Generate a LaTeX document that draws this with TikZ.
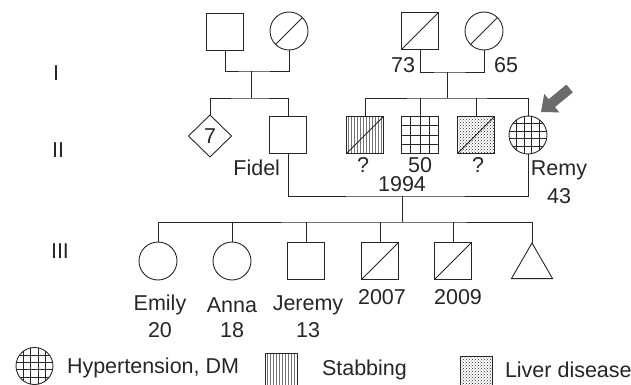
\documentclass[tikz,border=0pt]{standalone}
\usepackage{fontspec}
\setmainfont{Liberation Sans}
\usetikzlibrary{shapes.geometric,patterns}
\begin{document}
\begin{tikzpicture}[x=1pt,y=-1pt,line width=0.9pt,draw=black!85,
  every node/.style={inner sep=0pt,outer sep=0pt,font=\fontsize{21.5}{24}\selectfont,text=black!85},
  male/.style={draw,rectangle,minimum size=37pt},
  female/.style={draw,circle,minimum size=38pt},
  unknownsex/.style={draw,diamond,minimum width=43pt,minimum height=42pt},
  pregnancy/.style={draw,regular polygon,regular polygon sides=3,minimum size=47.4pt},
  stab/.style={pattern=vertical lines,pattern color=black!55},
  liver/.style={pattern=crosshatch dots,pattern color=black!85},
  lbl/.style={anchor=center}]
\useasboundingbox (0,0) rectangle (631,385);

% generation numerals
\node[lbl] (gI) at (56,73) {I};
\node[lbl] (gII) at (58,150) {II};
\node[lbl] (gIII) at (60,251) {III};

% generation I
\node[male] (I1) at (225,32) {};
\node[female] (I2) at (289,31) {};
\node[male] (I3) at (420,31) {};
\node[female] (I4) at (484,31) {};
\draw (I2.225) -- (I2.45);
\draw (I3.south west) -- (I3.north east);
\draw (I4.225) -- (I4.45);
\node[lbl] (a73) at (403,65) {73};
\node[lbl] (a65) at (506,65) {65};

\coordinate (m1) at (251,71);
\coordinate (s1) at (251,98);
\coordinate (m2) at (447,72);
\coordinate (s2) at (447,98);
\draw (I1.south) |- (m1) -| (I2.south);
\draw (I3.south) |- (m2) -| (I4.south);
\draw (m1) -- (s1);
\draw (m2) -- (s2);

% generation II
\node[unknownsex] (D) at (210,136) {7};
\node[male] (F) at (288,135) {};
\node[male,stab] (A) at (365,135) {};
\node[male] (B) at (420,135) {};
\node[male,liver] (C) at (476,135) {};
\node[female] (R) at (528,135) {};
\draw (A.south west) -- (A.north east);
\draw (C.south west) -- (C.north east);
\foreach \d in {-9.25,0,9.25} {
  \draw[shift={(B.center)}] (\d,-18.5) -- (\d,18.5) (-18.5,\d) -- (18.5,\d);
}
\begin{scope}
  \clip (R.center) circle[radius=19pt];
  \foreach \d in {-11.4,-3.8,3.8,11.4} {
    \draw[shift={(R.center)}] (\d,-20) -- (\d,20) (-20,\d) -- (20,\d);
  }
\end{scope}
\draw (D.north) |- (s1) -| (F.north);
\draw (A.north) |- (s2) -| (R.north);
\draw (B.north) -- (B.north |- s2);
\draw (C.north) -- (C.north |- s2);

\node[lbl,anchor=east] (fidel) at (280,168) {Fidel};
\node[lbl] (qA) at (363,165) {?};
\node[lbl] (n50) at (420,165) {50};
\node[lbl] (qC) at (478,165) {?};
\node[lbl] (remy) at (559,170) {Remy};
\node[lbl] (a43) at (559,196) {43};

% proband arrow
\fill[black!58] (541,112) -- (559.4,112.4) -- (555,107) -- (572.8,92.4)
  -- (566.4,84.6) -- (548.6,99.2) -- (544.2,93.8) -- cycle;

% marriage Fidel - Remy
\coordinate (m3) at (402,196);
\coordinate (s3) at (402,222);
\draw (F.south) |- (m3) -| (R.south);
\draw (m3) -- (s3);
\node[lbl] (y1994) at (402,184) {1994};

% generation III
\node[female] (E) at (158,261) {};
\node[female] (An) at (232,261) {};
\node[male] (J) at (306,261) {};
\node[male] (K1) at (380,261) {};
\node[male] (K2) at (453,261) {};
\node[pregnancy] (T) at (532,266.7) {};
\draw (K1.south west) -- (K1.north east);
\draw (K2.south west) -- (K2.north east);
\draw (E.north) |- (s3) -| (T.north);
\draw (An.north) -- (An.north |- s3);
\draw (J.north) -- (J.north |- s3);
\draw (K1.north) -- (K1.north |- s3);
\draw (K2.north) -- (K2.north |- s3);

\node[lbl] (emily) at (160,305) {Emily};
\node[lbl] (a20) at (160,330) {20};
\node[lbl] (anna) at (232,305) {Anna};
\node[lbl] (a18) at (232,330) {18};
\node[lbl] (jeremy) at (308,305) {Jeremy};
\node[lbl] (a13) at (308,330) {13};
\node[lbl] (y2007) at (382,297) {2007};
\node[lbl] (y2009) at (458,297) {2009};

% legend
\node[draw,circle,minimum size=37pt] (L1) at (34.5,366) {};
\begin{scope}
  \clip (L1.center) circle[radius=18.5pt];
  \foreach \d in {-11,-3.7,3.7,11} {
    \draw[line width=0.8pt,shift={(L1.center)}] (\d,-20) -- (\d,20) (-20,\d) -- (20,\d);
  }
\end{scope}
\node[lbl,anchor=west] (t1) at (67,368) {Hypertension, DM};
\node[draw,rectangle,minimum size=32pt,stab] (L2) at (281,369) {};
\node[lbl,anchor=west] (t2) at (322,370) {Stabbing};
\node[draw,rectangle,minimum size=32pt,liver] (L3) at (476,372) {};
\node[lbl,anchor=west] (t3) at (505,370) {Liver disease};
\end{tikzpicture}
\end{document}
